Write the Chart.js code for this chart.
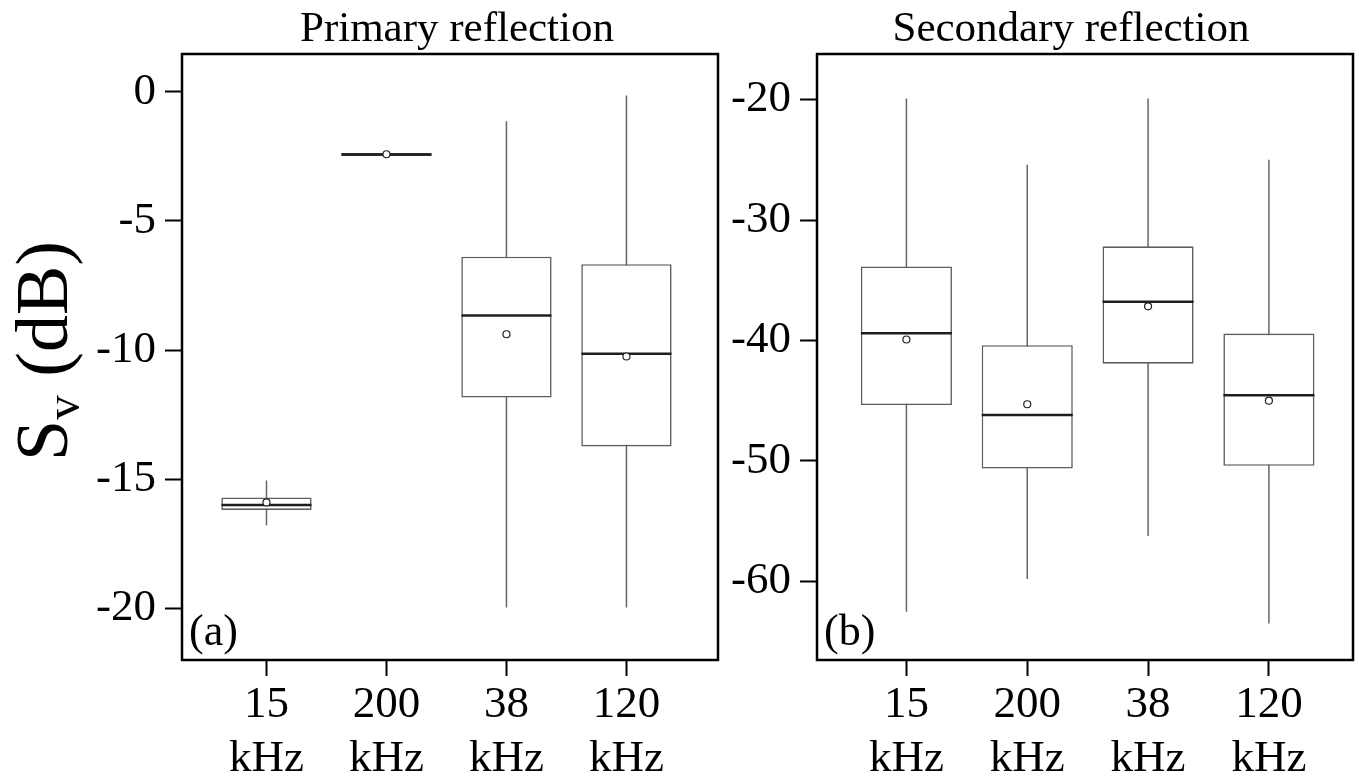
<!DOCTYPE html>
<html>
<head>
<meta charset="utf-8">
<script src="https://cdn.jsdelivr.net/npm/chart.js@4.4.1/dist/chart.umd.min.js"></script>
<style>
  html, body { margin: 0; padding: 0; background: #fff; }
  #wrap { position: relative; width: 1359px; height: 776px; }
  canvas { position: absolute; top: 0; }
  #primary { left: 0; }
  #secondary { left: 728px; }
</style>
</head>
<body>
<div id="wrap">
  <canvas id="primary" width="728" height="776"></canvas>
  <canvas id="secondary" width="631" height="776"></canvas>
</div>
<script>
const freqLabels = ["15", "200", "38", "120"];
const freqPos = [1, 2, 3, 4];

// primary reflection, Sv (dB)
const primaryMin = [-16.79, -2.57, -19.97, -19.97];
const primaryQ1 = [-16.19, -2.49, -11.84, -13.73];
const primaryMedian = [-16.0, -2.43, -8.66, -10.14];
const primaryQ3 = [-15.71, -2.37, -6.39, -6.68];
const primaryMax = [-15.05, -2.31, -1.14, -0.15];
const primaryMean = [-15.9, -2.42, -9.39, -10.25];
const primaryTicks = [0, -5, -10, -15, -20];

// secondary reflection, Sv (dB)
const secondaryMin = [-62.53, -59.81, -56.24, -63.5];
const secondaryQ1 = [-45.36, -50.64, -41.93, -50.41];
const secondaryMedian = [-39.4, -46.2, -36.78, -44.55];
const secondaryQ3 = [-33.86, -40.4, -32.18, -39.43];
const secondaryMax = [-19.9, -25.41, -19.9, -24.99];
const secondaryMean = [-39.92, -45.3, -37.17, -45.0];
const secondaryTicks = [-20, -30, -40, -50, -60];

const SERIF = "'Liberation Serif', 'Times New Roman', serif";

// frame, panel title and (a)/(b) tag
const framePlugin = {
    id: "frame",
    afterDraw(chart, args, opts) {
        const { ctx, chartArea: a } = chart;
        ctx.save();
        ctx.strokeStyle = "#000";
        ctx.lineWidth = 2.5;
        ctx.strokeRect(a.left, a.top, a.right - a.left, a.bottom - a.top);
        ctx.fillStyle = "#000";
        ctx.textBaseline = "alphabetic";
        ctx.font = `44px ${SERIF}`;
        ctx.fillText(opts.tag, a.left + 7, a.bottom - 15);
        ctx.font = `43px ${SERIF}`;
        ctx.textAlign = "center";
        ctx.fillText(opts.title, (a.left + a.right) / 2 + opts.titleShift, 41);
        ctx.restore();
    },
};

// "Sv (dB)" with subscript v, rotated
const svTitlePlugin = {
    id: "svTitle",
    afterDraw(chart) {
        const { ctx, chartArea: a } = chart;
        const big = `74px ${SERIF}`;
        const small = `49px ${SERIF}`;
        ctx.save();
        ctx.fillStyle = "#000";
        ctx.textBaseline = "alphabetic";
        ctx.font = big;
        const wS = ctx.measureText("S").width;
        const wRest = ctx.measureText(" (dB)").width;
        ctx.font = small;
        const wV = ctx.measureText("v").width;
        const total = wS + wV + wRest;
        ctx.translate(67, 351);
        ctx.rotate(-Math.PI / 2);
        let x = -total / 2;
        ctx.font = big;
        ctx.fillText("S", x, 0);
        x += wS;
        ctx.font = small;
        ctx.fillText("v", x, 12);
        x += wV;
        ctx.font = big;
        ctx.fillText(" (dB)", x, 0);
        ctx.restore();
    },
};

function boxPanel(id, cfg) {
    const pts = (arr) => freqPos.map((x, i) => ({ x, y: arr[i] }));
    const ranges = (lo, hi) => freqPos.map((x, i) => ({ x, y: [lo[i], hi[i]] }));

    return new Chart(document.getElementById(id), {
        type: "bar",
        data: {
            datasets: [
                {
                    type: "bar",
                    label: "whisker",
                    data: ranges(cfg.min, cfg.max),
                    grouped: false,
                    maxBarThickness: 1.5,
                    backgroundColor: "#666",
                    borderWidth: 0,
                    order: 4,
                },
                {
                    type: "bar",
                    label: "box",
                    data: ranges(cfg.q1, cfg.q3),
                    grouped: false,
                    categoryPercentage: 1,
                    barPercentage: cfg.boxRatio,
                    backgroundColor: "#fff",
                    borderColor: "#5e5e5e",
                    borderWidth: 1.6,
                    borderSkipped: false,
                    order: 3,
                },
                {
                    type: "scatter",
                    label: "median",
                    data: pts(cfg.median),
                    pointStyle: "line",
                    pointRadius: cfg.medianHalf,
                    borderColor: "#1e1e1e",
                    borderWidth: 2.5,
                    order: 2,
                },
                {
                    type: "scatter",
                    label: "mean",
                    data: pts(cfg.mean),
                    pointStyle: "circle",
                    pointRadius: 3.5,
                    backgroundColor: "#fff",
                    borderColor: "#222",
                    borderWidth: 1.2,
                    order: 1,
                },
            ],
        },
        options: {
            responsive: false,
            animation: false,
            events: [],
            layout: { autoPadding: false, padding: { left: 0, right: cfg.padRight, top: 54, bottom: 0 } },
            plugins: {
                legend: { display: false },
                tooltip: { enabled: false },
                title: { display: false },
                frame: { tag: cfg.tag, title: cfg.title, titleShift: cfg.titleShift },
            },
            scales: {
                x: {
                    type: "linear",
                    offset: false,
                    min: cfg.xMin,
                    max: cfg.xMax,
                    afterBuildTicks: (s) => { s.ticks = freqPos.map((v) => ({ value: v })); },
                    afterFit: (s) => {
                        s.height = 116;
                        s.paddingLeft = 0;
                        s.paddingRight = 0;
                    },
                    border: { display: false },
                    grid: { offset: false, drawOnChartArea: false, tickLength: 16, tickWidth: 2, tickColor: "#000" },
                    ticks: {
                        color: "#000",
                        padding: 2,
                        autoSkip: false,
                        maxRotation: 0,
                        font: { family: SERIF, size: 45, lineHeight: 1.2 },
                        callback: (v) => [freqLabels[freqPos.indexOf(v)], "kHz"],
                    },
                },
                y: {
                    type: "linear",
                    min: cfg.yMin,
                    max: cfg.yMax,
                    afterBuildTicks: (s) => { s.ticks = cfg.ticks.map((v) => ({ value: v })); },
                    afterFit: (s) => { s.width = cfg.axisWidth; },
                    border: { display: false },
                    grid: { drawOnChartArea: false, tickLength: 17, tickWidth: 2, tickColor: "#000" },
                    ticks: {
                        color: "#000",
                        padding: 9,
                        font: { family: SERIF, size: 45 },
                        callback: (v) => String(v),
                    },
                },
            },
        },
        plugins: cfg.extraPlugins.concat([framePlugin]),
    });
}

boxPanel("primary", {
    title: "Primary reflection",
    tag: "(a)",
    min: primaryMin, q1: primaryQ1, median: primaryMedian, q3: primaryQ3, max: primaryMax, mean: primaryMean,
    ticks: primaryTicks,
    yMin: -22.0, yMax: 1.46,
    xMin: 0.296, xMax: 4.763,
    boxRatio: 0.753, medianHalf: 45,
    axisWidth: 182, padRight: 10,
    titleShift: 7,
    extraPlugins: [svTitlePlugin],
});

boxPanel("secondary", {
    title: "Secondary reflection",
    tag: "(b)",
    min: secondaryMin, q1: secondaryQ1, median: secondaryMedian, q3: secondaryQ3, max: secondaryMax, mean: secondaryMean,
    ticks: secondaryTicks,
    yMin: -66.54, yMax: -16.21,
    xMin: 0.26, xMax: 4.696,
    boxRatio: 0.754, medianHalf: 45.5,
    axisWidth: 89, padRight: 6,
    titleShift: -14,
    extraPlugins: [],
});
</script>
</body>
</html>
